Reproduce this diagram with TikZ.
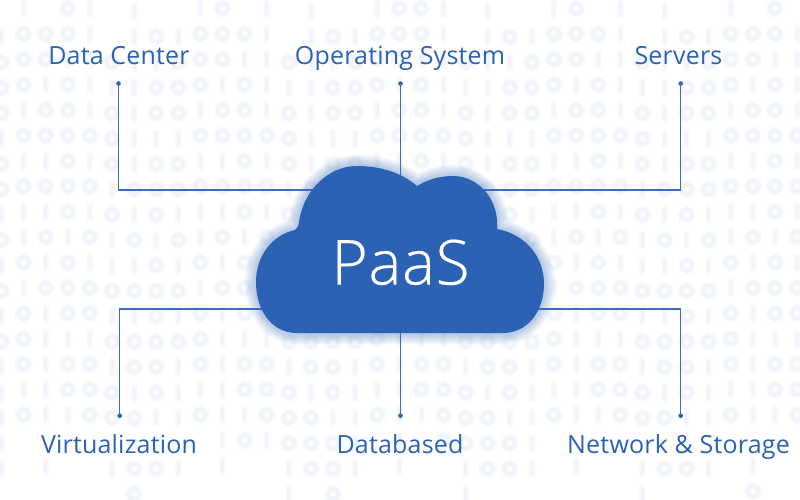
\documentclass[tikz,border=0pt]{standalone}
\usepackage{fontspec}
\setmainfont{Open Sans}[LetterSpace=0.8]
\newfontfamily\lightfont{Open Sans Light}[LetterSpace=1.2,FakeBold=0.35]
\definecolor{brand}{HTML}{2B62B4}
\definecolor{wire}{HTML}{3A6DBB}
\definecolor{glyphfar}{HTML}{FBFCFE}
\definecolor{glyphsoft}{HTML}{F6F8FC}
\definecolor{glyphcore}{HTML}{F0F3F9}
\tikzset{
  tag/.style={anchor=base,text=brand,font=\fontsize{25}{30}\selectfont,inner sep=0pt},
  wireline/.style={draw=wire,line width=1.1pt},
  tipdot/.style={fill=brand,circle,inner sep=0pt,minimum size=4.6pt},
}
\newcount\colidx
\def\cell#1{%
  \ifx#1.\else
    \pgfmathsetmacro\cx{1.5+22.1*\the\colidx}%
    \pgfmathsetmacro\cy{\rowy+(mod(\the\colidx+3,8)<4?3:0)}%
    \ifx#10%
      \draw[glyphfar,line width=8pt] (\cx,\cy) circle[radius=5.5];
      \draw[glyphsoft,line width=5.5pt] (\cx,\cy) circle[radius=5.5];
      \draw[glyphcore,line width=2.8pt] (\cx,\cy) circle[radius=5.5];
    \else
      \draw[glyphfar,line width=8pt,line cap=round] (\cx,\cy-6) -- (\cx,\cy+6);
      \draw[glyphsoft,line width=5.5pt,line cap=round] (\cx,\cy-6) -- (\cx,\cy+6);
      \draw[glyphcore,line width=2.8pt] (\cx,\cy-6) -- (\cx,\cy+6);
    \fi
  \fi}
\def\scanrow#1{\ifx#1\relax\else\cell{#1}\global\advance\colidx by 1 \expandafter\scanrow\fi}
\def\bitrow#1#2{\pgfmathsetmacro\rowy{8.5+25.4*#1}\global\colidx=0 \scanrow#2\relax}
\def\cloudpath{(297,333) -- (503,333)
  .. controls (527,333) and (544,312) .. (544,284)
  .. controls (544,255) and (524,234) .. (497,229)
  -- (497,220)
  .. controls (495,195) and (476,176) .. (453,176)
  .. controls (439,176) and (427,180) .. (417,186)
  .. controls (402,173) and (381,166) .. (357,166)
  .. controls (327,166) and (303,192) .. (299,222)
  .. controls (298.5,226) and (297,229) .. (295,230)
  .. controls (272,235) and (256,256) .. (256,282)
  .. controls (256,311) and (272,333) .. (297,333) -- cycle}
\begin{document}
\begin{tikzpicture}[x=1pt,y=-1pt]
\useasboundingbox (0,0) rectangle (800,500);
\fill[white] (0,0) rectangle (800,500);
% faint binary texture
\bitrow{0}{.1.01.1..10.1.1..1001.1..10.1.1..1.0.}
\bitrow{1}{10001.1010001.1010001.1010001.1010001}
\bitrow{2}{0001101100011011000110110001101100011}
\bitrow{3}{0010111000101110001011100010111000101}
\bitrow{4}{0100101001001010010010100100101001001}
\bitrow{5}{1000001110000011100000111000001110000}
\bitrow{6}{0110101001101010011010100110101001101}
\bitrow{7}{0000010000000100000001000000010000000}
\bitrow{8}{1110101011101010111010101110101011101}
\bitrow{9}{0101010101010101010101010101010101010}
\bitrow{10}{1010111010101110101011101010111010101}
\bitrow{11}{0100000001000000010000000100000001000}
\bitrow{12}{1010011010100110101001101010011010100}
\bitrow{13}{0011100000111000001110000011100000111}
\bitrow{14}{1010010010100100101001001010010010100}
\bitrow{15}{1110001011100010111000101110001011100}
\bitrow{16}{1011000110110001101100011011000110110}
\bitrow{17}{1.........1010001.1.00001............}
\bitrow{18}{1.1..1001.1..1001.1..1001.1..1001.1..}
\bitrow{19}{......0......1.0.....1.......1....0..}
% cloud glow
\foreach \w in {22,19,16,13,10,7,4}
  \draw[brand,line width=\w pt,opacity=0.05,line join=round] \cloudpath;
% named anchors
\node[tipdot] (dotA) at (118.5,83.5) {};
\node[tipdot] (dotB) at (400.5,83.5) {};
\node[tipdot] (dotC) at (680.7,83.5) {};
\node[tipdot] (dotD) at (119.7,415.7) {};
\node[tipdot] (dotE) at (400.5,415.7) {};
\node[tipdot] (dotF) at (680.7,415.7) {};
\coordinate (hubTop) at (400.5,190);
\coordinate (hubBottom) at (400.5,309);
% connectors
\draw[wireline] (dotA.center) |- (hubTop);
\draw[wireline] (dotB.center) -- (hubTop);
\draw[wireline] (dotC.center) |- (hubTop);
\draw[wireline] (dotD.center) |- (hubBottom);
\draw[wireline] (dotE.center) -- (hubBottom);
\draw[wireline] (dotF.center) |- (hubBottom);
% cloud
\fill[brand] \cloudpath;
\node[text=white,inner sep=0pt,anchor=base,font=\lightfont\fontsize{62}{70}\selectfont] (paas) at (400.5,284.5) {PaaS};
% labels
\node[tag] (labA) at (119,65) {Data Center};
\node[tag] (labB) at (400,65) {Operating System};
\node[tag] (labC) at (678.5,65) {Servers};
\node[tag] (labD) at (119,453.5) {Virtualization};
\node[tag] (labE) at (400,453.5) {Databased};
\node[tag] (labF) at (678.5,453.5) {Network \& Storage};
\end{tikzpicture}
\end{document}
